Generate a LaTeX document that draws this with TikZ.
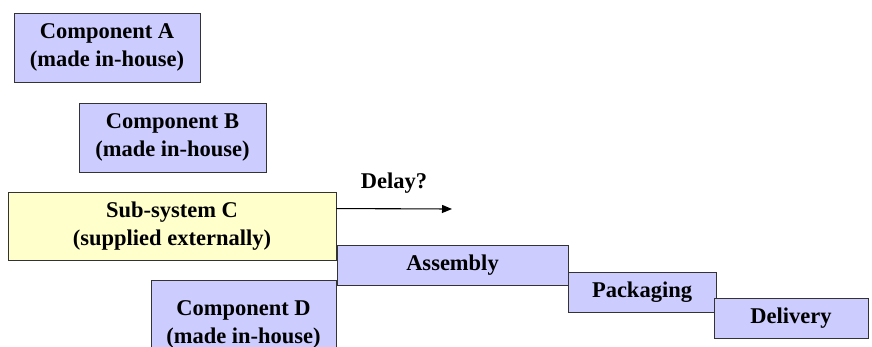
\documentclass[tikz,border=0pt]{standalone}
\usepackage{fontspec}
\setmainfont{Liberation Serif}
\usetikzlibrary{arrows.meta}
\definecolor{lav}{HTML}{CCCCFF}
\definecolor{ylw}{HTML}{FFFFCC}
\definecolor{edge}{HTML}{333333}
\begin{document}
\begin{tikzpicture}[
  box/.style={draw=edge, line width=0.9pt, fill=lav, inner sep=0pt, align=center,
    font=\fontsize{22.5pt}{28pt}\selectfont\bfseries},
  ybox/.style={box, fill=ylw},
  lbl/.style={font=\fontsize{22.5pt}{28pt}\selectfont\bfseries, inner sep=0pt}
]
\clip (0pt,0pt) rectangle (872pt,-347pt);
\fill[white] (0pt,0pt) rectangle (872pt,-347pt);
\node[box, minimum width=186pt, minimum height=69pt] (A) at (107pt,-47.5pt) {Component A\\(made in-house)};
\node[box, minimum width=187pt, minimum height=69pt] (B) at (172.5pt,-137.5pt) {Component B\\(made in-house)};
\node[ybox, minimum width=328pt, minimum height=68pt] (C) at (172pt,-226pt) {Sub-system C\\(supplied externally)};
\node[box, minimum width=185pt, minimum height=88pt] (D) at (243.5pt,-324pt) {Component D\\(made in-house)};
\node[box, minimum width=231pt, minimum height=40pt] (asm) at (452.5pt,-265pt) {Assembly};
\node[box, minimum width=148pt, minimum height=40pt] (pkg) at (642pt,-292pt) {Packaging};
\node[box, minimum width=154pt, minimum height=40pt] (dlv) at (791pt,-318pt) {Delivery};
\coordinate (delayend) at (452pt,-209pt);
\draw[line width=1.1pt, -{Triangle[length=10pt,width=8pt]}] ([yshift=-17pt]C.north east) -- (delayend);
\node[lbl] (delay) at (394pt,-183pt) {Delay?};
\end{tikzpicture}
\end{document}
